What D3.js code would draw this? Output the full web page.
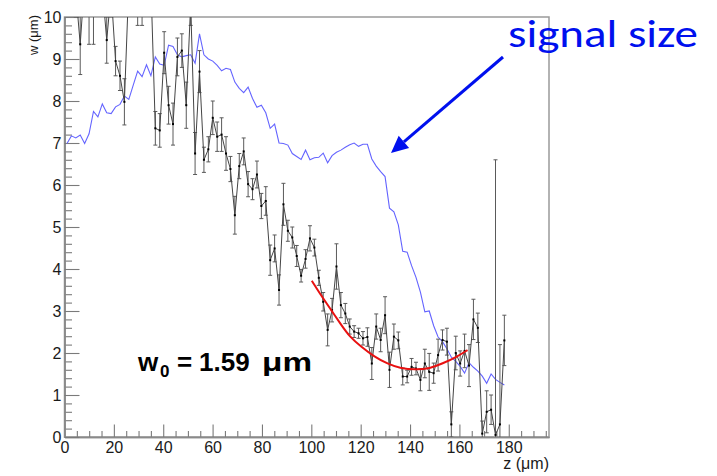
<!DOCTYPE html>
<html><head><meta charset="utf-8">
<script src="https://cdn.jsdelivr.net/npm/d3@7"></script>
<style>body{margin:0;background:#fff}</style>
</head><body><svg id="c" width="717" height="476"></svg>
<script>
// ---- data ----
const zValues = [1.0, 2.79, 4.58, 6.37, 8.16, 9.95, 11.74, 13.53, 15.32, 17.11, 18.9, 20.69, 22.48, 24.27, 26.06, 27.85, 29.64, 31.43, 33.22, 35.01, 36.8, 38.59, 40.38, 42.17, 43.96, 45.75, 47.54, 49.33, 51.12, 52.91, 54.7, 56.49, 58.28, 60.07, 61.86, 63.65, 65.44, 67.23, 69.02, 70.81, 72.6, 74.39, 76.18, 77.97, 79.76, 81.55, 83.34, 85.13, 86.92, 88.71, 90.5, 92.29, 94.08, 95.87, 97.66, 99.45, 101.24, 103.03, 104.82, 106.61, 108.4, 110.19, 111.98, 113.77, 115.56, 117.35, 119.14, 120.93, 122.72, 124.51, 126.3, 128.09, 129.88, 131.67, 133.46, 135.25, 137.04, 138.83, 140.62, 142.41, 144.2, 145.99, 147.78, 149.57, 151.36, 153.15, 154.94, 156.73, 158.52, 160.31, 162.1, 163.89, 165.68, 167.47, 169.26, 171.05, 172.84, 174.63, 176.42, 178.21];
const wValues = [10.8, 11.0, 10.6, 9.35, 10.9, 10.15, 10.1, 11.0, 10.7, 9.45, 10.6, 8.95, 8.6, 7.98, 10.8, 11.0, 10.3, 10.4, 11.0, 10.8, 7.35, 7.3, 9.15, 7.9, 7.45, 9.05, 9.2, 7.9, 10.3, 6.75, 8.7, 6.6, 6.85, 7.6, 7.15, 7.2, 6.75, 6.38, 5.28, 6.45, 6.8, 6.02, 5.9, 6.25, 5.5, 5.62, 4.21, 4.49, 3.5, 5.54, 4.91, 4.75, 4.31, 3.84, 4.24, 4.73, 4.51, 3.79, 3.22, 2.55, 3.02, 4.06, 3.14, 2.94, 2.63, 2.51, 2.47, 2.35, 2.38, 1.75, 2.63, 2.31, 2.9, 1.6, 2.39, 2.3, 1.44, 1.44, 1.67, 1.63, 1.36, 1.75, 1.55, 1.52, 1.95, 2.31, 2.27, 0.3, 2.0, 1.75, 2.05, 1.7, 2.8, 2.6, 0.08, 0.6, 0.65, 0.05, 0.3, 2.3];
const wErrors = [0.6, 0.6, 0.6, 0.72, 0.6, 0.8, 0.75, 0.6, 0.6, 0.55, 0.6, 0.35, 0.35, 0.55, 0.6, 0.6, 0.5, 0.6, 0.6, 0.6, 0.4, 0.4, 0.5, 0.45, 0.5, 0.45, 0.4, 0.55, 0.5, 0.5, 0.5, 0.3, 0.3, 0.4, 0.35, 0.4, 0.4, 0.3, 0.45, 0.3, 0.32, 0.3, 0.25, 0.32, 0.3, 0.34, 0.36, 0.32, 0.36, 0.5, 0.25, 0.25, 0.25, 0.15, 0.22, 0.3, 0.2, 0.18, 0.22, 0.38, 0.28, 0.54, 0.3, 0.24, 0.18, 0.14, 0.12, 0.16, 0.22, 0.38, 0.3, 0.28, 0.44, 0.42, 0.3, 0.2, 0.2, 0.15, 0.2, 0.15, 0.26, 0.34, 0.44, 0.24, 0.38, 0.24, 0.32, 0.3, 0.4, 0.3, 0.4, 0.5, 0.48, 0.35, 0.3, 0.5, 0.35, 6.55, 1.9, 0.6];
const signalSize = [6.99, 7.17, 7.12, 7.19, 6.99, 7.22, 7.75, 7.62, 7.93, 7.72, 7.7, 7.86, 7.92, 8.12, 8.04, 8.38, 8.71, 8.58, 8.86, 8.6, 9.05, 8.88, 8.85, 9.33, 9.3, 9.1, 9.05, 9.08, 9.1, 8.9, 9.6, 9.1, 9.0, 8.95, 8.85, 8.72, 8.78, 8.75, 8.45, 8.3, 8.2, 8.33, 8.06, 7.85, 7.9, 7.72, 7.35, 7.45, 7.0, 6.99, 6.95, 6.75, 6.68, 6.61, 6.83, 6.6, 6.65, 6.66, 6.76, 6.53, 6.7, 6.78, 6.83, 6.9, 6.96, 7.0, 6.92, 6.97, 6.97, 6.62, 6.45, 6.32, 6.2, 5.45, 5.36, 5.05, 4.42, 4.4, 4.08, 3.8, 3.45, 2.98, 3.0, 2.65, 2.38, 2.27, 2.1, 1.9, 1.8, 1.68, 1.52, 1.77, 1.66, 1.57, 1.45, 1.28, 1.5, 1.37, 1.3, 1.24];
const fitZ = [100.2, 104.3, 108.1, 112.1, 115.5, 120.2, 125.6, 131.0, 135.7, 142.5, 147.9, 153.2, 158.7, 163.3];
const fitW = [3.72, 3.34, 3.02, 2.67, 2.39, 2.15, 1.91, 1.74, 1.64, 1.6, 1.63, 1.75, 1.9, 2.07];
const xTickLabels = [0, 20, 40, 60, 80, 100, 120, 140, 160, 180];
const yTickLabels = [0, 1, 2, 3, 4, 5, 6, 7, 8, 9, 10];
const yTitle = "w (\u03bcm)";
const xTitle = "z (\u03bcm)";
const annotation = "signal size";

// ---- layout ----
const W = 717, H = 476;
const mLeft = 64.5, mRight = 549, mTop = 17, mBottom = 437;
const svg = d3.select("#c");
svg.append("rect").attr("width", W).attr("height", H).attr("fill", "#fff");

const x = d3.scaleLinear().domain([0, 196.3]).range([mLeft, mRight]);
const y = d3.scaleLinear().domain([0, 10]).range([mBottom, mTop]);

svg.append("defs").append("clipPath").attr("id", "plot")
  .append("rect").attr("x", mLeft).attr("y", mTop).attr("width", mRight - mLeft).attr("height", mBottom - mTop);

// frame
svg.append("rect").attr("x", mLeft).attr("y", mTop).attr("width", mRight - mLeft).attr("height", mBottom - mTop)
  .attr("fill", "none").attr("stroke", "#9a9a9a").attr("stroke-width", 1.5);

const font = "'Liberation Sans', Arial, Helvetica, sans-serif";

// axes
const xMinor = d3.range(0, 196, 5).filter(v => v % 20 !== 0);
const yMinor = d3.range(0, 10.01, 0.2).filter(v => Math.abs(v - Math.round(v)) > 1e-6);

function styleAxis(g) {
  g.select(".domain").attr("stroke", "#8a8a8a").attr("stroke-width", 1.5);
  g.selectAll(".tick line").attr("stroke", "#7a7a7a").attr("stroke-width", 1.1);
  g.selectAll(".tick text").attr("fill", "#1a1a1a").style("font-family", font).style("font-size", "16px");
}
const gxMinor = svg.append("g").attr("transform", `translate(0,${mBottom})`)
  .call(d3.axisBottom(x).tickValues(xMinor).tickSize(-6).tickSizeOuter(0).tickFormat(""));
styleAxis(gxMinor);
const gx = svg.append("g").attr("transform", `translate(0,${mBottom})`)
  .call(d3.axisBottom(x).tickValues(xTickLabels).tickSize(-12.5).tickSizeOuter(0).tickPadding(5).tickFormat(d3.format("d")));
styleAxis(gx);
const gyMinor = svg.append("g").attr("transform", `translate(${mLeft},0)`)
  .call(d3.axisLeft(y).tickValues(yMinor).tickSize(-7.5).tickSizeOuter(0).tickFormat(""));
styleAxis(gyMinor);
const gy = svg.append("g").attr("transform", `translate(${mLeft},0)`)
  .call(d3.axisLeft(y).tickValues(yTickLabels).tickSize(-15).tickSizeOuter(0).tickPadding(3).tickFormat(d3.format("d")));
styleAxis(gy);

// axis titles
svg.append("text").attr("transform", `translate(38,15) rotate(-90)`).attr("text-anchor", "end")
  .style("font-family", font).style("font-size", "13px").attr("fill", "#1a1a1a").text(yTitle);
svg.append("text").attr("x", mRight).attr("y", 469).attr("text-anchor", "end")
  .style("font-family", font).style("font-size", "16px").attr("fill", "#1a1a1a").text(xTitle);

const plot = svg.append("g").attr("clip-path", "url(#plot)");
const pts = zValues.map((z, i) => ({ z, w: wValues[i], e: wErrors[i], s: signalSize[i] }));

// blue signal size
plot.append("path").datum(pts.filter(d => d.s != null))
  .attr("fill", "none").attr("stroke", "#6464ff").attr("stroke-width", 1.1)
  .attr("d", d3.line().x(d => x(d.z)).y(d => y(d.s)));

// error bars
const eb = plot.append("g").attr("stroke", "#5a5a5a").attr("stroke-width", 1);
eb.selectAll("line.v").data(pts).join("line").attr("class", "v")
  .attr("x1", d => x(d.z)).attr("x2", d => x(d.z))
  .attr("y1", d => y(d.w - d.e)).attr("y2", d => y(d.w + d.e));
eb.selectAll("line.c1").data(pts).join("line").attr("class", "c1")
  .attr("x1", d => x(d.z) - 2).attr("x2", d => x(d.z) + 2)
  .attr("y1", d => y(d.w - d.e)).attr("y2", d => y(d.w - d.e));
eb.selectAll("line.c2").data(pts).join("line").attr("class", "c2")
  .attr("x1", d => x(d.z) - 2).attr("x2", d => x(d.z) + 2)
  .attr("y1", d => y(d.w + d.e)).attr("y2", d => y(d.w + d.e));

// black data line
plot.append("path").datum(pts)
  .attr("fill", "none").attr("stroke", "#454545").attr("stroke-width", 1)
  .attr("d", d3.line().x(d => x(d.z)).y(d => y(d.w)));
plot.append("g").selectAll("rect").data(pts).join("rect")
  .attr("x", d => x(d.z) - 1).attr("y", d => y(d.w) - 1).attr("width", 2).attr("height", 2).attr("fill", "#000");

// red fit
const fit = fitZ.map((z, i) => ({ z, w: fitW[i] }));
plot.append("path").datum(fit)
  .attr("fill", "none").attr("stroke", "#e81010").attr("stroke-width", 2)
  .attr("d", d3.line().curve(d3.curveBasis).x(d => x(d.z)).y(d => y(d.w)));

// w0 label
const lab = svg.append("g").style("font-family", font).style("font-weight", "bold").attr("fill", "#000");
lab.append("text").attr("x", 138).attr("y", 371).style("font-size", "26px").text("w");
lab.append("text").attr("x", 160).attr("y", 377).style("font-size", "17px").text("0");
lab.append("text").attr("x", 177).attr("y", 371).style("font-size", "26px").text("=");
lab.append("text").attr("x", 199).attr("y", 371).style("font-size", "26px").text("1.59");
lab.append("text").attr("x", 262).attr("y", 371).style("font-size", "26px")
  .attr("textLength", 50).attr("lengthAdjust", "spacingAndGlyphs").text("\u03bcm");

// annotation
svg.append("text").attr("x", 508).attr("y", 47)
  .style("font-family", "Carlito, Lato, 'Open Sans', sans-serif").style("font-size", "38px")
  .attr("fill", "#0010ee").attr("textLength", 190).attr("lengthAdjust", "spacingAndGlyphs").text(annotation);

// arrow
const ax1 = 503, ay1 = 57, ax2 = 391, ay2 = 153;
const ang = Math.atan2(ay2 - ay1, ax2 - ax1);
const hl = 17, hw = 8;
const bx = ax2 - hl * Math.cos(ang), by = ay2 - hl * Math.sin(ang);
svg.append("line").attr("x1", ax1).attr("y1", ay1).attr("x2", bx).attr("y2", by)
  .attr("stroke", "#0010ee").attr("stroke-width", 3);
svg.append("path").attr("fill", "#0010ee")
  .attr("d", `M${ax2},${ay2} L${bx + hw * Math.sin(ang)},${by - hw * Math.cos(ang)} L${bx - hw * Math.sin(ang)},${by + hw * Math.cos(ang)} Z`);
</script></body></html>
